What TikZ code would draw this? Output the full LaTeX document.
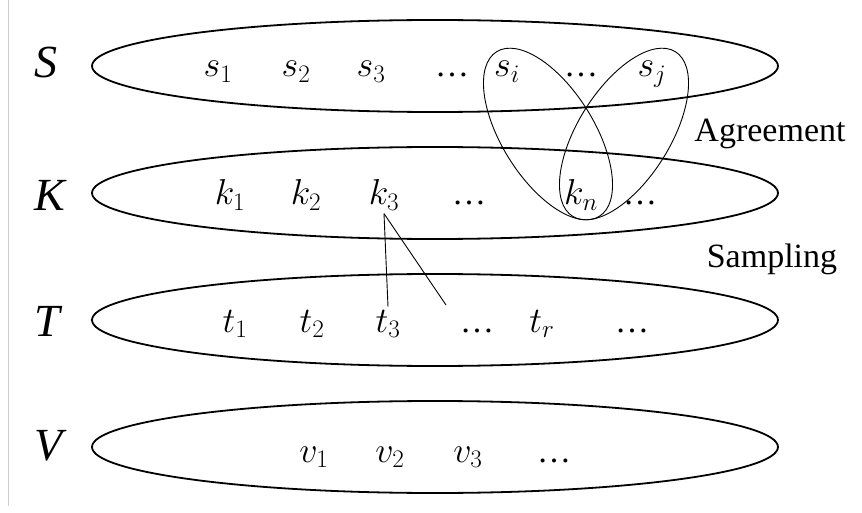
\RequirePackage{fix-cm}
\documentclass[tikz,border=0pt]{standalone}
\usepackage{fontspec}
\setmainfont{Liberation Serif}
\usetikzlibrary{positioning, shapes.geometric}
\tikzset{
  setring/.style = {draw, ellipse, line width=1.8pt, inner sep=0pt,
                    minimum width=686pt, minimum height=92pt},
  setname/.style = {font=\fontsize{46}{50}\selectfont\itshape,
                    inner sep=0pt, anchor=west},
  member/.style  = {font=\fontsize{36}{40}\selectfont, anchor=base,
                    inner sep=3pt},
  note/.style    = {font=\fontsize{34}{40}\selectfont, anchor=base},
  agree/.style   = {line width=0.9pt},
  sample/.style  = {line width=0.9pt},
}
\newcommand{\gapdots}{\fontsize{34}{40}\selectfont …}

\begin{document}
\begin{tikzpicture}[x=1pt, y=-1pt]
  \useasboundingbox (0,0) rectangle (862,513);
  \draw[gray!40, line width=0.8pt] (8,0) -- (8,506);

  % the four sets
  \node[setring] (Sset) at (435,66)  {};
  \node[setring] (Kset) at (435,193) {};
  \node[setring] (Tset) at (435,320) {};
  \node[setring] (Vset) at (435,447) {};
  \node[setname] (Slab) at (34,62)  {S};
  \node[setname] (Klab) at (34,195) {K};
  \node[setname] (Tlab) at (34,321) {T};
  \node[setname] (Vlab) at (34,446) {V};

  % members of S
  \node[member] (s1)    at (218,77) {$s_1$};
  \node[member] (s2)    at (296,77) {$s_2$};
  \node[member] (s3)    at (371,77) {$s_3$};
  \node[member] (sdots) at (452,77) {\gapdots};
  \node[member] (si)    at (507,77) {$s_i$};
  \node[member] (sdotb) at (581,77) {\gapdots};
  \node[member] (sj)    at (652,77) {$s_j$};

  % members of K
  \node[member] (k1)    at (230,205) {$k_1$};
  \node[member] (k2)    at (306,205) {$k_2$};
  \node[member] (k3)    at (384,205) {$k_3$};
  \node[member] (kdots) at (469,205) {\gapdots};
  \node[member] (kn)    at (581,205) {$k_n$};
  \node[member] (kdotb) at (640,205) {\gapdots};

  % members of T
  \node[member] (t1)    at (235,332) {$t_1$};
  \node[member] (t2)    at (312,332) {$t_2$};
  \node[member] (t3)    at (388,332) {$t_3$};
  \node[member] (tdots) at (477,332) {\gapdots};
  \node[member] (tr)    at (542,332) {$t_r$};
  \node[member] (tdotb) at (632,332) {\gapdots};

  % members of V
  \node[member] (v1)    at (314,462) {$v_1$};
  \node[member] (v2)    at (390,462) {$v_2$};
  \node[member] (v3)    at (468,462) {$v_3$};
  \node[member] (vdots) at (554,462) {\gapdots};

  % agreement loops
  \draw[agree, rotate around={-58:(548,134)}] (548,134) ellipse [x radius=97, y radius=46];
  \draw[agree, rotate around={58:(624,134)}]  (624,134) ellipse [x radius=97, y radius=46];
  \node[note] (agr) at (770,142) {Agreement};

  % sampling
  \coordinate (tgap) at (446,305);
  \draw[sample] (k3.south) -- (t3.north);
  \draw[sample] (k3.south) -- (tgap);
  \node[note] (smp) at (772,267) {Sampling};
\end{tikzpicture}
\end{document}
